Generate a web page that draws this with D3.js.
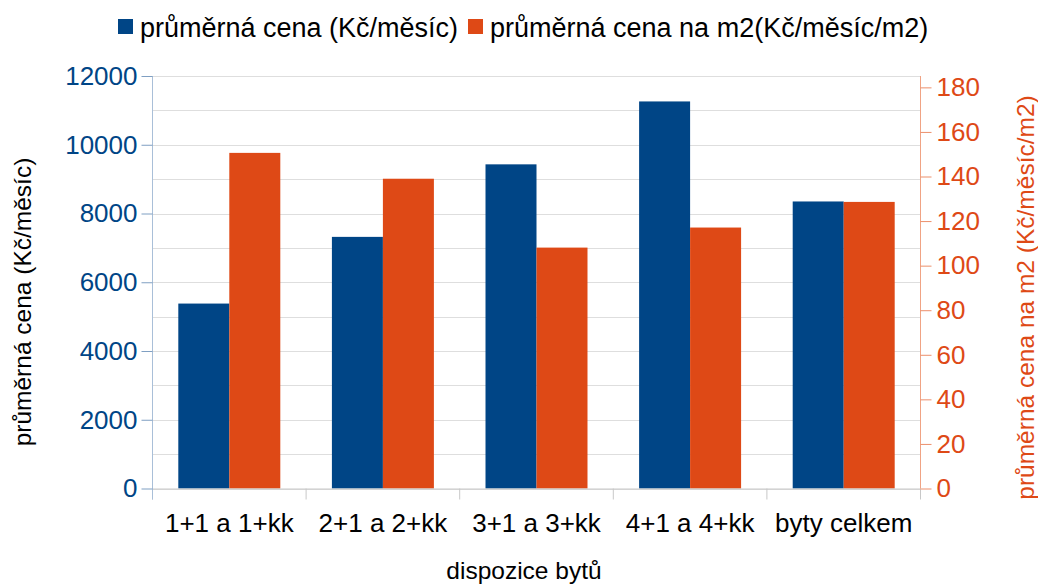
<!DOCTYPE html>
<html><head><meta charset="utf-8">
<script src="https://cdn.jsdelivr.net/npm/d3@7"></script>
<style>body{margin:0;background:#fff}svg{display:block;font-family:"Liberation Sans",Arial,sans-serif}</style>
</head><body><svg id="c" width="1038" height="584"></svg>
<script>
const categories = ["1+1 a 1+kk","2+1 a 2+kk","3+1 a 3+kk","4+1 a 4+kk","byty celkem"];
const seriesNames = ["průměrná cena (Kč/měsíc)","průměrná cena na m2(Kč/měsíc/m2)"];
const avgPrice = [5380, 7320, 9430, 11260, 8350];
const avgPricePerM2 = [150.6, 139.0, 108.1, 117.1, 128.6];
const leftTicks = [0,2000,4000,6000,8000,10000,12000];
const rightTicks = [0,20,40,60,80,100,120,140,160,180];

const blue = "#004586", orange = "#de4916";
const svg = d3.select("#c");
const L = 152.5, R = 920.5, T = 76, B = 488.5;

const x0 = d3.scaleBand().domain(categories).range([L, R]).padding(0);
const bw = x0.bandwidth();
const x1 = d3.scaleBand().domain([0,1]).range([bw*0.168, bw*0.832]).padding(0);
const yL = d3.scaleLinear().domain([0, 12000]).range([B, T]);
const yR = d3.scaleLinear().domain([0, 185.1]).range([B, T]);

// gridlines
svg.append("g").selectAll("line").data(d3.range(0, 12001, 1000)).join("line")
  .attr("x1", L).attr("x2", R).attr("y1", d => Math.round(yL(d))+0.5).attr("y2", d => Math.round(yL(d))+0.5)
  .attr("stroke", "#dedede").attr("stroke-width", 1.2);

// bars
const g = svg.append("g");
categories.forEach((c, i) => {
  const vals = [avgPrice[i], avgPricePerM2[i]];
  const scales = [yL, yR];
  [0,1].forEach(s => {
    const y = scales[s](vals[s]);
    g.append("rect").attr("x", x0(c) + x1(s)).attr("width", x1.bandwidth())
      .attr("y", y).attr("height", B - y).attr("fill", s ? orange : blue);
  });
});

// x axis
const xAxis = svg.append("g").attr("transform", `translate(0,${B})`)
  .call(d3.axisBottom(x0).tickSize(0).tickPadding(22));
xAxis.select(".domain").attr("stroke", "#c8c8c8");
xAxis.selectAll("text").attr("font-size", 26).attr("fill", "#000").attr("font-family", "Liberation Sans")
  .attr("dy", 0).attr("y", 43);
svg.append("g").selectAll("line").data(d3.range(categories.length + 1)).join("line")
  .attr("x1", d => L + d*bw).attr("x2", d => L + d*bw).attr("y1", B).attr("y2", B + 11)
  .attr("stroke", "#c8c8c8");

// left axis
const la = svg.append("g").attr("transform", `translate(${L},0)`)
  .call(d3.axisLeft(yL).tickValues(leftTicks).tickFormat(d3.format("d")).tickSize(11).tickPadding(4).tickSizeOuter(0));
la.select(".domain").attr("stroke", "#a9bfd8").attr("d", `M0,${T}V${B+11}`);
la.selectAll(".tick line").attr("stroke", "#7f9fc2");
la.selectAll("text").attr("font-size", 26).attr("fill", blue).attr("font-family", "Liberation Sans");

// right axis
const ra = svg.append("g").attr("transform", `translate(${R},0)`)
  .call(d3.axisRight(yR).tickValues(rightTicks).tickFormat(d3.format("d")).tickSize(11).tickPadding(5).tickSizeOuter(0));
ra.select(".domain").attr("stroke", "#f0a384").attr("d", `M0,${T}V${B}`);
ra.selectAll(".tick line").attr("stroke", "#ec8f6b");
ra.selectAll("text").attr("font-size", 26).attr("fill", orange).attr("font-family", "Liberation Sans");

// axis titles
svg.append("text").attr("transform", `translate(31,302) rotate(-90)`)
  .attr("text-anchor", "middle").attr("font-size", 24.5).attr("fill", "#000").text("průměrná cena (Kč/měsíc)");
svg.append("text").attr("transform", `translate(1034,297.5) rotate(-90)`)
  .attr("text-anchor", "middle").attr("font-size", 24.5).attr("fill", orange).text("průměrná cena na m2 (Kč/měsíc/m2)");
svg.append("text").attr("x", 524).attr("y", 579).attr("text-anchor", "middle")
  .attr("font-size", 24.5).attr("fill", "#000").text("dispozice bytů");

// legend
const leg = svg.append("g");
const items = [{n: seriesNames[0], c: blue, x: 118}, {n: seriesNames[1], c: orange, x: 468}];
items.forEach(it => {
  leg.append("rect").attr("x", it.x).attr("y", 19).attr("width", 15).attr("height", 15).attr("fill", it.c);
  leg.append("text").attr("x", it.x + 22).attr("y", 37).attr("font-size", 27).attr("fill", "#000").text(it.n);
});
</script></body></html>
